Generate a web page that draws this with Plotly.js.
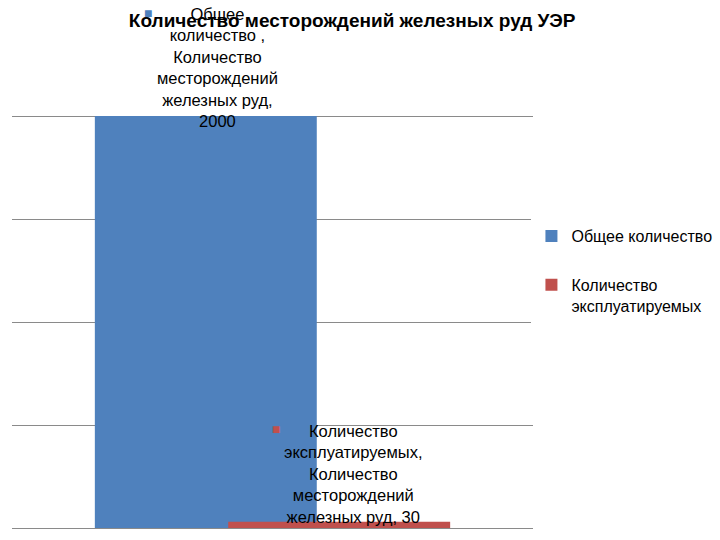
<!DOCTYPE html>
<html>
<head>
<meta charset="utf-8">
<script src="https://cdn.plot.ly/plotly-3.0.1.min.js"></script>
<style>
  body { margin: 0; background: #fff; }
  #graph { width: 720px; height: 540px; }
</style>
</head>
<body>
<div id="graph"></div>
<script>
// Количество месторождений железных руд УЭР
const categories = ["Количество месторождений железных руд"];
const legendNames = ["Общее количество", "Количество<br>эксплуатируемых"];
const totalValues = [2000];
const exploitedValues = [30];
const seriesColors = ["#4F81BD", "#C0504D"];

const FONT = "Liberation Sans, Arial, sans-serif";

const traceTotal = {
  x: categories,
  y: totalValues,
  name: legendNames[0],
  type: "bar",
  marker: { color: seriesColors[0] },
  width: 0.426,
  offset: -0.341,
  legendgroup: "a",
  hoverinfo: "y",
};

const traceExploited = {
  x: categories,
  y: exploitedValues,
  name: legendNames[1],
  type: "bar",
  marker: { color: seriesColors[1] },
  width: 0.426,
  offset: -0.085,
  legendgroup: "b",
  hoverinfo: "y",
};

const annotations = [
  {
    x: -0.105,
    y: totalValues[0],
    xref: "x",
    yref: "y",
    yanchor: "bottom",
    yshift: -16,
    showarrow: false,
    align: "center",
    text: "Общее<br>количество ,<br>Количество<br>месторождений<br>железных руд,<br>" + totalValues[0],
    font: { family: FONT, size: 16.5, color: "#000" },
  },
  {
    x: -0.105,
    y: totalValues[0],
    xref: "x",
    yref: "y",
    xshift: -70,
    yshift: 103,
    showarrow: false,
    text: "■",
    font: { family: FONT, size: 14, color: seriesColors[0] },
  },
  {
    x: 0.156,
    y: exploitedValues[0],
    xref: "x",
    yref: "y",
    yanchor: "bottom",
    yshift: -6,
    showarrow: false,
    align: "center",
    text: "Количество<br>эксплуатируемых,<br>Количество<br>месторождений<br>железных руд, " + exploitedValues[0],
    font: { family: FONT, size: 16.5, color: "#000" },
  },
  {
    x: 0.156,
    y: exploitedValues[0],
    xref: "x",
    yref: "y",
    xshift: -78,
    yshift: 93,
    showarrow: false,
    text: "■",
    font: { family: FONT, size: 14, color: seriesColors[1] },
  },
];

const layout = {
  width: 720,
  height: 540,
  paper_bgcolor: "#fff",
  plot_bgcolor: "#fff",
  font: { family: FONT, size: 16, color: "#000" },
  title: {
    text: "<b>Количество месторождений железных руд УЭР</b>",
    x: 0.489,
    xanchor: "center",
    y: 0.962,
    yanchor: "middle",
    font: { family: FONT, size: 19, color: "#000" },
  },
  barmode: "overlay",
  showlegend: true,
  legend: {
    x: 0.997,
    y: 0.6,
    xanchor: "left",
    yanchor: "top",
    valign: "top",
    traceorder: "grouped",
    tracegroupgap: 25,
    font: { family: FONT, size: 16, color: "#000" },
    itemwidth: 30,
  },
  margin: { l: 12, r: 187, t: 13, b: 12, autoexpand: false },
  xaxis: {
    type: "category",
    range: [-0.5, 0.5],
    showticklabels: false,
    showgrid: false,
    zeroline: false,
    showline: false,
    ticks: "",
  },
  yaxis: {
    range: [0, 2500],
    dtick: 500,
    showticklabels: false,
    showgrid: true,
    gridcolor: "#8a8a8a",
    gridwidth: 1,
    zeroline: true,
    zerolinecolor: "#8a8a8a",
    zerolinewidth: 1,
    ticks: "",
  },
  annotations: annotations,
};

Plotly.newPlot("graph", [traceTotal, traceExploited], layout, { displayModeBar: false });
</script>
</body>
</html>
